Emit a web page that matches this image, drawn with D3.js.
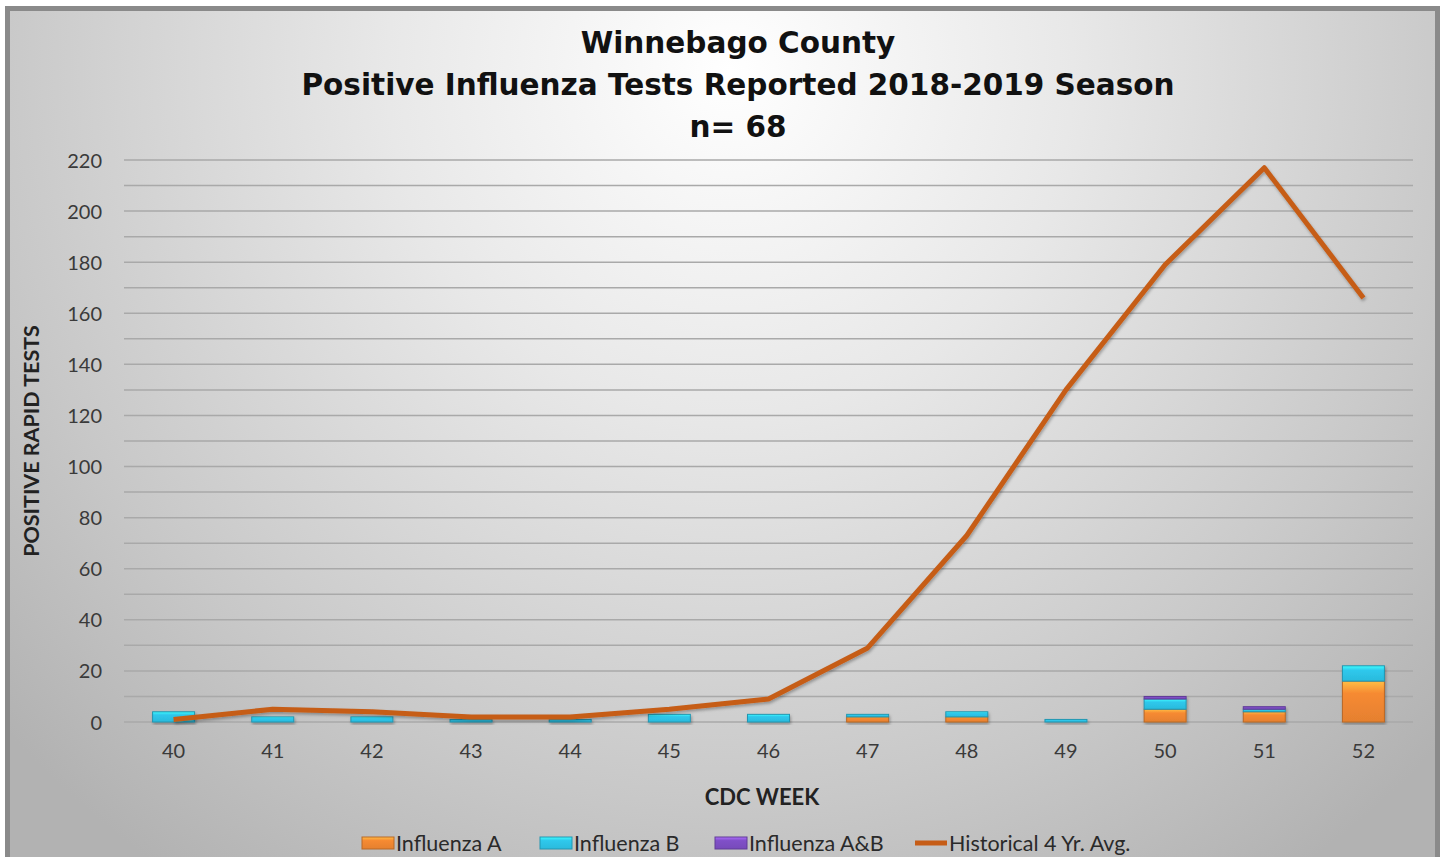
<!DOCTYPE html>
<html lang="en">
<head>
<meta charset="UTF-8">
<title>Winnebago County Influenza</title>
<style>
    body { margin: 0; background: #fff; }
    svg text { font-family: Lato, "Open Sans", sans-serif; }
</style>
</head>
<body>
<div id="chart"></div>
<script src="https://cdn.jsdelivr.net/npm/d3@7"></script>
<script>
    // data
    var weeks = ["40", "41", "42", "43", "44", "45", "46", "47", "48", "49", "50", "51", "52"];
    var fluA  = [0, 0, 0, 0, 0, 0, 0, 2, 2, 0, 5, 4, 16];
    var fluB  = [4, 2, 2, 1, 1, 3, 3, 1, 2, 1, 4, 1, 6];
    var fluAB = [0, 0, 0, 0, 0, 0, 0, 0, 0, 0, 1, 1, 0];
    var histAvg = [1, 5, 4, 2, 2, 5, 9, 29, 73, 130, 179, 217, 166];
    var yTicks = d3.range(0, 221, 20);
    var legendItems = [
        { name: "Influenza A", type: "bar", color: "#f68a32" },
        { name: "Influenza B", type: "bar", color: "#2ec8ec" },
        { name: "Influenza A&B", type: "bar", color: "#8050c8" },
        { name: "Historical 4 Yr. Avg.", type: "line", color: "#c65d17" }
    ];

    var width = 1445, height = 857;
    var margin = { left: 124, right: 32, top: 160, bottom: 135 };

    var svg = d3.select("#chart").append("svg")
        .attr("width", width)
        .attr("height", height);

    var defs = svg.append("defs");
    var bg = defs.append("radialGradient")
        .attr("id", "bg")
        .attr("gradientUnits", "userSpaceOnUse")
        .attr("cx", 730).attr("cy", 70).attr("r", 980);
    bg.append("stop").attr("offset", 0).attr("stop-color", "#ffffff");
    bg.append("stop").attr("offset", 0.35).attr("stop-color", "#e8e8e8");
    bg.append("stop").attr("offset", 0.75).attr("stop-color", "#c8c8c8");
    bg.append("stop").attr("offset", 1).attr("stop-color", "#b2b2b2");

    // bevelled look for the bars
    legendItems.filter(d => d.type == "bar").forEach(function(d, i) {
        var g = defs.append("linearGradient")
            .attr("id", "bar" + i)
            .attr("x1", 0).attr("x2", 0).attr("y1", 0).attr("y2", 1);
        g.append("stop").attr("offset", 0).attr("stop-color", d3.color(d.color).brighter(0.9));
        g.append("stop").attr("offset", 0.3).attr("stop-color", d.color);
        g.append("stop").attr("offset", 1).attr("stop-color", d3.color(d.color).darker(0.2));
    });

    var shadow = defs.append("filter").attr("id", "shadow")
        .attr("x", "-5%").attr("y", "-5%").attr("width", "110%").attr("height", "110%");
    shadow.append("feDropShadow")
        .attr("dx", 1).attr("dy", 2).attr("stdDeviation", 1.5)
        .attr("flood-color", "#000").attr("flood-opacity", 0.3);

    svg.append("rect")
        .attr("x", 7.5).attr("y", 8.5)
        .attr("width", 1430).attr("height", 860)
        .attr("fill", "url(#bg)")
        .attr("stroke", "#8a8a8a")
        .attr("stroke-width", 5);

    var x = d3.scaleBand()
        .domain(weeks)
        .range([margin.left, width - margin.right]);

    var y = d3.scaleLinear()
        .domain([0, 220])
        .range([height - margin.bottom, margin.top]);

    // gridlines every 10
    svg.append("g")
        .selectAll("line")
        .data(d3.range(0, 221, 10))
        .enter().append("line")
        .attr("x1", margin.left).attr("x2", width - margin.right)
        .attr("y1", d => y(d)).attr("y2", d => y(d))
        .attr("stroke", "#a9a9a9")
        .attr("stroke-width", 1.5);

    var yAxis = svg.append("g")
        .attr("transform", "translate(" + (margin.left - 22) + ",0)")
        .call(d3.axisLeft(y).tickValues(yTicks).tickSize(0).tickPadding(0));
    yAxis.select(".domain").remove();
    yAxis.selectAll("text")
        .attr("font-size", 20)
        .attr("fill", "#3a3a3a")
        .attr("dy", "0.35em");

    var xAxis = svg.append("g")
        .attr("transform", "translate(0," + (height - margin.bottom) + ")")
        .call(d3.axisBottom(x).tickSize(0).tickPadding(22));
    xAxis.select(".domain").remove();
    xAxis.selectAll("text")
        .attr("font-size", 20)
        .attr("fill", "#3a3a3a");

    // stacked bars
    var rows = weeks.map(function(w, i) {
        return { week: w, a: fluA[i], b: fluB[i], ab: fluAB[i] };
    });
    var stack = d3.stack().keys(["a", "b", "ab"])(rows);
    var barW = 42;

    svg.append("g")
        .attr("filter", "url(#shadow)")
        .selectAll("g")
        .data(stack)
        .enter().append("g")
        .attr("fill", (d, i) => "url(#bar" + i + ")")
        .attr("stroke", (d, i) => d3.color(legendItems[i].color).darker(0.8))
        .attr("stroke-width", 1)
        .selectAll("rect")
        .data(d => d.filter(s => s[1] > s[0]))
        .enter().append("rect")
        .attr("x", d => x(d.data.week) + x.bandwidth() / 2 - barW / 2)
        .attr("width", barW)
        .attr("y", d => y(d[1]))
        .attr("height", d => y(d[0]) - y(d[1]));

    // historical average line
    var line = d3.line()
        .x((d, i) => x(weeks[i]) + x.bandwidth() / 2)
        .y(d => y(d));

    svg.append("path")
        .datum(histAvg)
        .attr("d", line)
        .attr("fill", "none")
        .attr("stroke", "#c65d17")
        .attr("stroke-width", 5)
        .attr("stroke-linejoin", "round")
        .attr("filter", "url(#shadow)");

    // titles
    var title = svg.append("g")
        .attr("font-weight", "bold")
        .attr("font-size", 29.5)
        .attr("fill", "#111")
        .attr("text-anchor", "middle");
    ["Winnebago County", "Positive Influenza Tests Reported 2018-2019 Season", "n= 68"].forEach(function(t, i) {
        title.append("text")
            .attr("x", 738).attr("y", 53 + i * 42)
            .style("font-family", "'DejaVu Sans', Verdana, sans-serif")
            .text(t);
    });

    svg.append("text")
        .attr("transform", "translate(39,441) rotate(-90)")
        .attr("text-anchor", "middle")
        .attr("font-weight", "bold")
        .attr("font-size", 21.5)
        .attr("fill", "#222")
        .text("POSITIVE RAPID TESTS");

    svg.append("text")
        .attr("x", 762).attr("y", 805)
        .attr("text-anchor", "middle")
        .attr("font-weight", "bold")
        .attr("font-size", 22)
        .attr("fill", "#222")
        .text("CDC WEEK");

    // legend
    var legendX = [362, 540, 715, 915];
    var legend = svg.append("g")
        .selectAll("g")
        .data(legendItems)
        .enter().append("g")
        .attr("transform", (d, i) => "translate(" + legendX[i] + ",843)");

    legend.filter(d => d.type == "bar").append("rect")
        .attr("x", 0).attr("y", -6)
        .attr("width", 32).attr("height", 12)
        .attr("fill", (d, i) => "url(#bar" + i + ")")
        .attr("stroke", d => d3.color(d.color).darker(0.8));

    legend.filter(d => d.type == "line").append("line")
        .attr("x1", 0).attr("x2", 32)
        .attr("stroke", d => d.color)
        .attr("stroke-width", 5);

    legend.append("text")
        .attr("x", 34).attr("dy", "0.35em")
        .attr("font-size", 21.5)
        .attr("fill", "#2a2a2a")
        .text(d => d.name);
</script>
</body>
</html>
